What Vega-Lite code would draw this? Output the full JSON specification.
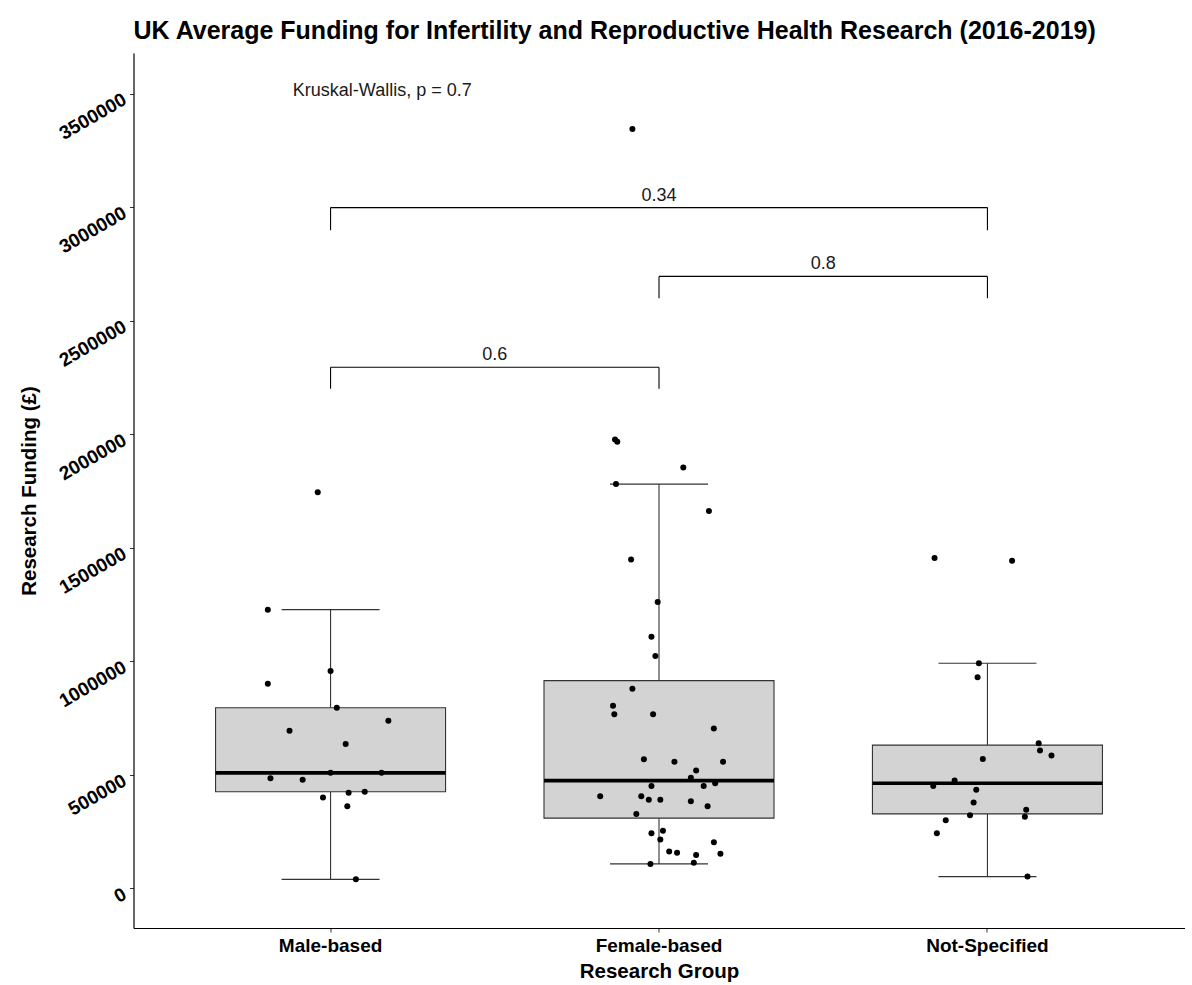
{
  "$schema": "https://vega.github.io/schema/vega-lite/v6.json",
  "width": 1051,
  "height": 875,
  "autosize": "none",
  "padding": {"left": 133.5, "top": 53, "right": 7.5, "bottom": 57},
  "background": "white",
  "title": {
    "text": "UK Average Funding for Infertility and Reproductive Health Research (2016-2019)",
    "anchor": "start",
    "frame": "group",
    "font": "Liberation Sans",
    "fontSize": 25,
    "fontWeight": "bold",
    "color": "black",
    "baseline": "alphabetic",
    "offset": -11
  },
  "config": {
    "view": {"stroke": null},
    "axis": {"grid": false}
  },
  "datasets": {
    "funding": [
      {"group": "Male-based", "value": 1744000, "jitter": -0.039},
      {"group": "Male-based", "value": 1227000, "jitter": -0.191},
      {"group": "Male-based", "value": 957000, "jitter": 0.0},
      {"group": "Male-based", "value": 901000, "jitter": -0.191},
      {"group": "Male-based", "value": 795000, "jitter": 0.019},
      {"group": "Male-based", "value": 738000, "jitter": 0.176},
      {"group": "Male-based", "value": 693000, "jitter": -0.125},
      {"group": "Male-based", "value": 635000, "jitter": 0.046},
      {"group": "Male-based", "value": 484000, "jitter": -0.183},
      {"group": "Male-based", "value": 478000, "jitter": -0.085},
      {"group": "Male-based", "value": 508000, "jitter": 0.0},
      {"group": "Male-based", "value": 508000, "jitter": 0.155},
      {"group": "Male-based", "value": 425000, "jitter": 0.104},
      {"group": "Male-based", "value": 420000, "jitter": 0.055},
      {"group": "Male-based", "value": 399000, "jitter": -0.023},
      {"group": "Male-based", "value": 361000, "jitter": 0.051},
      {"group": "Male-based", "value": 39000, "jitter": 0.077},
      {"group": "Female-based", "value": 3344000, "jitter": -0.081},
      {"group": "Female-based", "value": 1977000, "jitter": -0.134},
      {"group": "Female-based", "value": 1966000, "jitter": -0.127},
      {"group": "Female-based", "value": 1853000, "jitter": 0.074},
      {"group": "Female-based", "value": 1780000, "jitter": -0.131},
      {"group": "Female-based", "value": 1661000, "jitter": 0.152},
      {"group": "Female-based", "value": 1448000, "jitter": -0.085},
      {"group": "Female-based", "value": 1261000, "jitter": -0.004},
      {"group": "Female-based", "value": 1108000, "jitter": -0.023},
      {"group": "Female-based", "value": 1023000, "jitter": -0.011},
      {"group": "Female-based", "value": 878000, "jitter": -0.081},
      {"group": "Female-based", "value": 804000, "jitter": -0.14},
      {"group": "Female-based", "value": 766000, "jitter": -0.136},
      {"group": "Female-based", "value": 766000, "jitter": -0.018},
      {"group": "Female-based", "value": 703000, "jitter": 0.167},
      {"group": "Female-based", "value": 568000, "jitter": -0.046},
      {"group": "Female-based", "value": 557000, "jitter": 0.047},
      {"group": "Female-based", "value": 557000, "jitter": 0.195},
      {"group": "Female-based", "value": 518000, "jitter": 0.113},
      {"group": "Female-based", "value": 486000, "jitter": 0.097},
      {"group": "Female-based", "value": 450000, "jitter": 0.136},
      {"group": "Female-based", "value": 462000, "jitter": 0.171},
      {"group": "Female-based", "value": 450000, "jitter": -0.023},
      {"group": "Female-based", "value": 405000, "jitter": -0.179},
      {"group": "Female-based", "value": 405000, "jitter": -0.054},
      {"group": "Female-based", "value": 389000, "jitter": -0.031},
      {"group": "Female-based", "value": 389000, "jitter": 0.004},
      {"group": "Female-based", "value": 383000, "jitter": 0.097},
      {"group": "Female-based", "value": 361000, "jitter": 0.148},
      {"group": "Female-based", "value": 327000, "jitter": -0.069},
      {"group": "Female-based", "value": 242000, "jitter": -0.023},
      {"group": "Female-based", "value": 253000, "jitter": 0.012},
      {"group": "Female-based", "value": 214000, "jitter": 0.004},
      {"group": "Female-based", "value": 202000, "jitter": 0.167},
      {"group": "Female-based", "value": 162000, "jitter": 0.031},
      {"group": "Female-based", "value": 156000, "jitter": 0.055},
      {"group": "Female-based", "value": 146000, "jitter": 0.113},
      {"group": "Female-based", "value": 152000, "jitter": 0.187},
      {"group": "Female-based", "value": 112000, "jitter": 0.106},
      {"group": "Female-based", "value": 107000, "jitter": -0.026},
      {"group": "Not-Specified", "value": 1454000, "jitter": -0.161},
      {"group": "Not-Specified", "value": 1442000, "jitter": 0.075},
      {"group": "Not-Specified", "value": 991000, "jitter": -0.026},
      {"group": "Not-Specified", "value": 929000, "jitter": -0.03},
      {"group": "Not-Specified", "value": 638000, "jitter": 0.156},
      {"group": "Not-Specified", "value": 607000, "jitter": 0.16},
      {"group": "Not-Specified", "value": 585000, "jitter": 0.195},
      {"group": "Not-Specified", "value": 569000, "jitter": -0.014},
      {"group": "Not-Specified", "value": 474000, "jitter": -0.1},
      {"group": "Not-Specified", "value": 450000, "jitter": -0.165},
      {"group": "Not-Specified", "value": 434000, "jitter": -0.034},
      {"group": "Not-Specified", "value": 377000, "jitter": -0.042},
      {"group": "Not-Specified", "value": 346000, "jitter": 0.118},
      {"group": "Not-Specified", "value": 321000, "jitter": -0.053},
      {"group": "Not-Specified", "value": 315000, "jitter": 0.114},
      {"group": "Not-Specified", "value": 299000, "jitter": -0.127},
      {"group": "Not-Specified", "value": 242000, "jitter": -0.154},
      {"group": "Not-Specified", "value": 51000, "jitter": 0.122}
    ],
    "brackets": [
      {"label": "0.6", "g1": 1, "g2": 2, "mid": 1.5, "value": 2295000, "tip": 2200000},
      {"label": "0.8", "g1": 2, "g2": 3, "mid": 2.5, "value": 2695000, "tip": 2599000},
      {"label": "0.34", "g1": 1, "g2": 3, "mid": 2, "value": 2998000, "tip": 2898000}
    ],
    "kw": [
      {"label": "Kruskal-Wallis, p = 0.7", "pos": 0.885, "value": 3490000}
    ]
  },
  "encoding": {
    "y": {
      "field": "value",
      "type": "quantitative",
      "title": "Research Funding (£)",
      "scale": {"domain": [-175400, 3679000], "nice": false, "zero": false},
      "axis": {
        "values": [0, 500000, 1000000, 1500000, 2000000, 2500000, 3000000, 3500000],
        "format": "d",
        "grid": false,
        "domainColor": "black",
        "domainWidth": 1.2,
        "tickColor": "#333333",
        "tickSize": 4,
        "labelAngle": -30,
        "labelAlign": "right",
        "labelBaseline": "middle",
        "labelOffset": 4,
        "labelPadding": 5,
        "labelFont": "Liberation Sans",
        "labelFontSize": 19,
        "labelFontWeight": "bold",
        "labelColor": "black",
        "titleFont": "Liberation Sans",
        "titleFontSize": 20.5,
        "titleFontWeight": "bold",
        "titleColor": "black",
        "titleAngle": 270,
        "titleBaseline": "alphabetic",
        "titleAlign": "center",
        "titleX": -98,
        "titleY": 437.5
      }
    }
  },
  "layer": [
    {
      "data": {"name": "funding"},
      "encoding": {
        "x": {
          "field": "group",
          "type": "nominal",
          "sort": ["Male-based", "Female-based", "Not-Specified"],
          "title": "Research Group",
          "scale": {"paddingInner": 0, "paddingOuter": 0.1},
          "axis": {
            "labelAngle": 0,
            "domainColor": "black",
            "domainWidth": 1.2,
            "tickColor": "#333333",
            "tickSize": 4,
            "labelFont": "Liberation Sans",
            "labelFontSize": 19,
            "labelFontWeight": "bold",
            "labelColor": "black",
            "labelBaseline": "alphabetic",
            "labelPadding": 19,
            "titleFont": "Liberation Sans",
            "titleFontSize": 20.5,
            "titleFontWeight": "bold",
            "titleColor": "black",
            "titleBaseline": "alphabetic",
            "titleY": 49
          }
        }
      },
      "layer": [
        {
          "mark": {
            "type": "boxplot",
            "extent": 1.5,
            "size": 230,
            "outliers": false,
            "box": {"fill": "#d3d3d3", "stroke": "#333333", "strokeWidth": 1.1, "opacity": 1},
            "median": {"color": "black", "thickness": 3.6, "opacity": 1},
            "rule": {"color": "#333333", "strokeWidth": 1.1},
            "ticks": {"color": "#333333", "size": 98, "thickness": 1.1, "opacity": 1}
          }
        },
        {
          "mark": {"type": "circle", "color": "black", "opacity": 1, "size": 36},
          "encoding": {
            "xOffset": {"field": "jitter", "type": "quantitative", "scale": {"domain": [-0.5, 0.5]}}
          }
        }
      ]
    },
    {
      "layer": [
        {
          "data": {"name": "brackets"},
          "mark": {"type": "rule", "color": "black", "strokeWidth": 1.1},
          "encoding": {
            "x": {"field": "g1", "type": "quantitative", "scale": {"domain": [0.4, 3.6], "nice": false, "zero": false}, "axis": null},
            "x2": {"field": "g2"}
          }
        },
        {
          "data": {"name": "brackets"},
          "mark": {"type": "rule", "color": "black", "strokeWidth": 1.1},
          "encoding": {
            "x": {"field": "g1", "type": "quantitative", "axis": null},
            "y2": {"field": "tip"}
          }
        },
        {
          "data": {"name": "brackets"},
          "mark": {"type": "rule", "color": "black", "strokeWidth": 1.1},
          "encoding": {
            "x": {"field": "g2", "type": "quantitative", "axis": null},
            "y2": {"field": "tip"}
          }
        },
        {
          "data": {"name": "brackets"},
          "mark": {"type": "text", "font": "Liberation Sans", "fontSize": 18, "color": "#1a1a1a", "align": "center", "baseline": "alphabetic", "dy": -7},
          "encoding": {
            "x": {"field": "mid", "type": "quantitative", "axis": null},
            "text": {"field": "label"}
          }
        },
        {
          "data": {"name": "kw"},
          "mark": {"type": "text", "font": "Liberation Sans", "fontSize": 18, "color": "#1a1a1a", "align": "left", "baseline": "alphabetic"},
          "encoding": {
            "x": {"field": "pos", "type": "quantitative", "axis": null},
            "text": {"field": "label"}
          }
        }
      ]
    }
  ],
  "resolve": {"scale": {"x": "independent"}}
}
